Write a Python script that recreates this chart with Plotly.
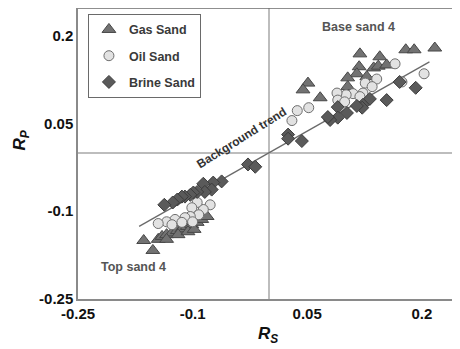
import plotly.graph_objects as go

# Gas Sand (triangles)
gas_x = [0.051, 0.0445, 0.067, 0.119, 0.145, 0.118, 0.115, 0.103, 0.137, 0.143, 0.154, 0.103, 0.128,
         0.179, 0.190, 0.217,
         -0.164, -0.152, -0.145, -0.140, -0.134, -0.127, -0.120, -0.114, -0.107, -0.101, -0.094,
         -0.088, -0.081, -0.134, -0.119, -0.106, -0.098]
gas_y = [0.119, 0.1075, 0.094, 0.169, 0.164, 0.147, 0.135, 0.128, 0.145, 0.148, 0.150, 0.113, 0.130,
         0.176, 0.176, 0.179,
         -0.150, -0.167, -0.148, -0.143, -0.140, -0.137, -0.133, -0.130, -0.126, -0.123, -0.119,
         -0.114, -0.109, -0.148, -0.140, -0.135, -0.131]

# Oil Sand (circles)
oil_x = [0.165, 0.203, 0.174, 0.141, 0.126, 0.135, 0.123, 0.110, 0.101, 0.089, 0.090, 0.099, 0.119,
         0.052, 0.037, 0.030,
         -0.077, -0.086, -0.094, -0.101, -0.092, -0.103, -0.110, -0.123, -0.134, -0.145, -0.127,
         -0.114, -0.100]
oil_y = [0.152, 0.135, 0.121, 0.126, 0.119, 0.113, 0.102, 0.101, 0.099, 0.102, 0.090, 0.087, 0.096,
         0.077, 0.072, 0.055,
         -0.089, -0.097, -0.085, -0.094, -0.106, -0.109, -0.111, -0.114, -0.118, -0.121, -0.123,
         -0.119, -0.118]

# Brine Sand (diamonds)
brine_x = [0.171, 0.192, 0.154, 0.132, 0.123, 0.122, 0.115, 0.090, 0.102, 0.090, 0.080, 0.077,
           0.025, 0.025, 0.043,
           -0.0275, -0.018, -0.062, -0.073, -0.086, -0.075, -0.084, -0.094, -0.099, -0.103, -0.110,
           -0.114, -0.120, -0.126, -0.137]
brine_y = [0.121, 0.111, 0.090, 0.092, 0.082, 0.077, 0.080, 0.078, 0.068, 0.060, 0.056, 0.061,
           0.031, 0.024, 0.020,
           -0.020, -0.024, -0.049, -0.051, -0.053, -0.063, -0.067, -0.067, -0.068, -0.072, -0.075,
           -0.075, -0.080, -0.085, -0.089]

trend_x = [-0.17, 0.21]
trend_slope = 0.74

tick_vals = [-0.25, -0.1, 0.05, 0.2]
tick_text = ["-0.25", "-0.1", "0.05", "0.2"]

fig = go.Figure()

fig.add_trace(go.Scatter(
    x=trend_x, y=[trend_slope * v for v in trend_x], mode="lines",
    line=dict(color="#6a6a6a", width=1.3), showlegend=False, hoverinfo="skip"))

fig.add_trace(go.Scatter(
    x=gas_x, y=gas_y, mode="markers", name="Gas Sand", legendgroup="g",
    marker=dict(symbol="triangle-up", size=12, color="#727272",
                line=dict(color="#474747", width=1))))
fig.add_trace(go.Scatter(
    x=oil_x, y=oil_y, mode="markers", name="Oil Sand", legendgroup="o",
    marker=dict(symbol="circle", size=10, color="#e2e2e2",
                line=dict(color="#6e6e6e", width=1))))
fig.add_trace(go.Scatter(
    x=brine_x, y=brine_y, mode="markers", name="Brine Sand", legendgroup="b",
    marker=dict(symbol="diamond", size=10, color="#5a5a5a",
                line=dict(color="#3c3c3c", width=1))))

axis_common = dict(
    tickvals=tick_vals, ticktext=tick_text,
    showgrid=False, zeroline=True, zerolinecolor="#bdbdbd", zerolinewidth=1.5,
    showline=True, linecolor="#8a8a8a", linewidth=1.5, ticks="",
    tickfont=dict(family="Liberation Sans, Arial", size=15, color="#111", weight="bold"),
)

fig.update_layout(
    width=452, height=341,
    margin=dict(l=70, r=0, t=0, b=50),
    plot_bgcolor="white", paper_bgcolor="white",
    font=dict(family="Liberation Sans, Arial"),
    xaxis=dict(range=[-0.25, 0.25], **axis_common),
    yaxis=dict(range=[-0.25, 0.2474], **axis_common),
    showlegend=True,
    legend=dict(x=0.026, y=0.98, xanchor="left", yanchor="top",
                bordercolor="#6a6a6a", borderwidth=1, bgcolor="white",
                font=dict(size=12.5, color="#3a3a3a", family="Liberation Sans, Arial",
                          weight="bold"),
                tracegroupgap=7, itemwidth=30),
    shapes=[dict(type="line", xref="paper", yref="paper", x0=0, x1=1, y0=1, y1=1,
                 line=dict(color="#6a6a6a", width=1.5))],
    annotations=[
        dict(x=0.117, y=0.215, text="<b>Base sand 4</b>", showarrow=False,
             font=dict(size=12.5, color="#555")),
        dict(x=-0.178, y=-0.196, text="<b>Top sand 4</b>", showarrow=False,
             font=dict(size=12.5, color="#555")),
        dict(x=-0.036, y=0.025, text="<b>Background trend</b>", showarrow=False,
             textangle=-32, font=dict(size=12, color="#333")),
        dict(xref="paper", yref="paper", x=-0.148, y=0.546, xanchor="center", yanchor="middle",
             text="<b><i>R<sub>P</sub></i></b>", showarrow=False, textangle=-90,
             font=dict(size=17, color="#111")),
        dict(xref="paper", yref="paper", x=0.497, y=-0.124, xanchor="center", yanchor="middle",
             text="<b><i>R<sub>S</sub></i></b>", showarrow=False,
             font=dict(size=17, color="#111")),
    ],
)

fig.write_html("out.html")
